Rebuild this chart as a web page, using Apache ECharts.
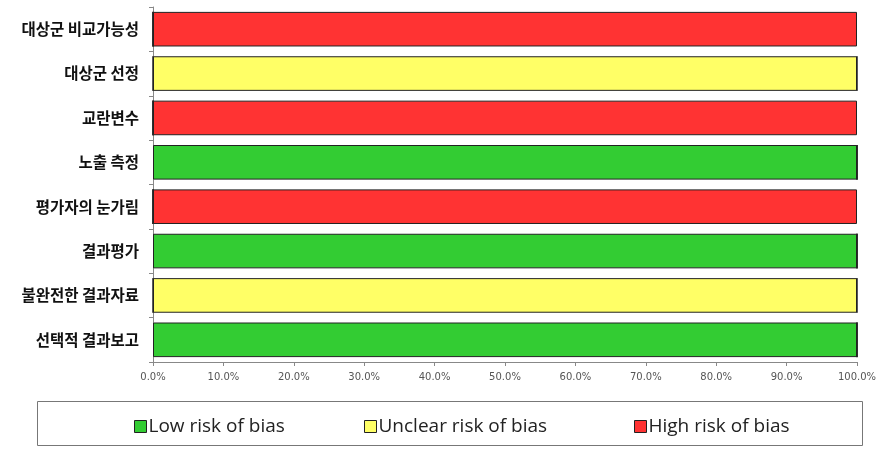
<!DOCTYPE html>
<html>
<head>
<meta charset="utf-8">
<script src="https://cdn.jsdelivr.net/npm/echarts@6/dist/echarts.min.js"></script>
<style>
  html, body { margin: 0; padding: 0; background: #fff; }
  #chart { width: 881px; height: 452px; }
</style>
</head>
<body>
<div id="chart"></div>
<script>
const categories = ['대상군 비교가능성', '대상군 선정', '교란변수', '노출 측정', '평가자의 눈가림', '결과평가', '불완전한 결과자료', '선택적 결과보고']
const lowRisk = [0, 0, 0, 100, 0, 100, 0, 100]
const unclearRisk = [0, 100, 0, 0, 0, 0, 100, 0]
const highRisk = [100, 0, 100, 0, 100, 0, 0, 0]
const seriesNames = ['Low risk of bias', 'Unclear risk of bias', 'High risk of bias']
const colors = ['#33cc33', '#ffff66', '#ff3333']

const chart = echarts.init(document.getElementById('chart'))

function makeSeries(name, data, color) {
  return {
    name,
    type: 'bar',
    stack: 'total',
    data,
    barCategoryGap: '22%',
    itemStyle: { color, borderColor: '#222', borderWidth: 1 },
    emphasis: { disabled: true }
  }
}

const legendLeft = [129, 359, 629]

const option = {
  animation: false,
  grid: { left: 153, right: 24, top: 7, bottom: 90 },
  xAxis: {
    type: 'value',
    min: 0,
    max: 100,
    interval: 10,
    splitLine: { show: false },
    axisLine: { show: true, lineStyle: { color: '#888' } },
    axisTick: { show: true, length: 4, lineStyle: { color: '#888' } },
    axisLabel: {
      formatter: v => v.toFixed(1) + '%',
      color: '#555',
      fontSize: 10,
      fontFamily: 'DejaVu Sans',
      margin: 10
    }
  },
  yAxis: {
    type: 'category',
    data: categories,
    inverse: true,
    axisLine: { show: true, lineStyle: { color: '#888' } },
    axisTick: { show: true, length: 4, lineStyle: { color: '#888' } },
    axisLabel: {
      color: '#111',
      fontSize: 15.5,
      fontWeight: 'bold',
      fontFamily: 'Noto Sans CJK KR',
      margin: 14
    }
  },
  legend: seriesNames.map((name, i) => ({
    data: [name],
    left: legendLeft[i],
    top: 412,
    itemWidth: 12,
    itemHeight: 12,
    itemGap: 0,
    icon: 'rect',
    itemStyle: { borderColor: '#222', borderWidth: 1 },
    textStyle: { fontSize: 19, color: '#222', fontFamily: 'Open Sans', padding: [0, 0, 0, -3] },
    selectedMode: false
  })),
  graphic: [{
    type: 'rect',
    shape: { x: 37.5, y: 401.5, width: 825, height: 44 },
    style: { fill: 'none', stroke: '#777', lineWidth: 1 },
    z: -1
  }],
  series: [
    makeSeries(seriesNames[0], lowRisk, colors[0]),
    makeSeries(seriesNames[1], unclearRisk, colors[1]),
    makeSeries(seriesNames[2], highRisk, colors[2])
  ]
}

chart.setOption(option)
</script>
</body>
</html>
